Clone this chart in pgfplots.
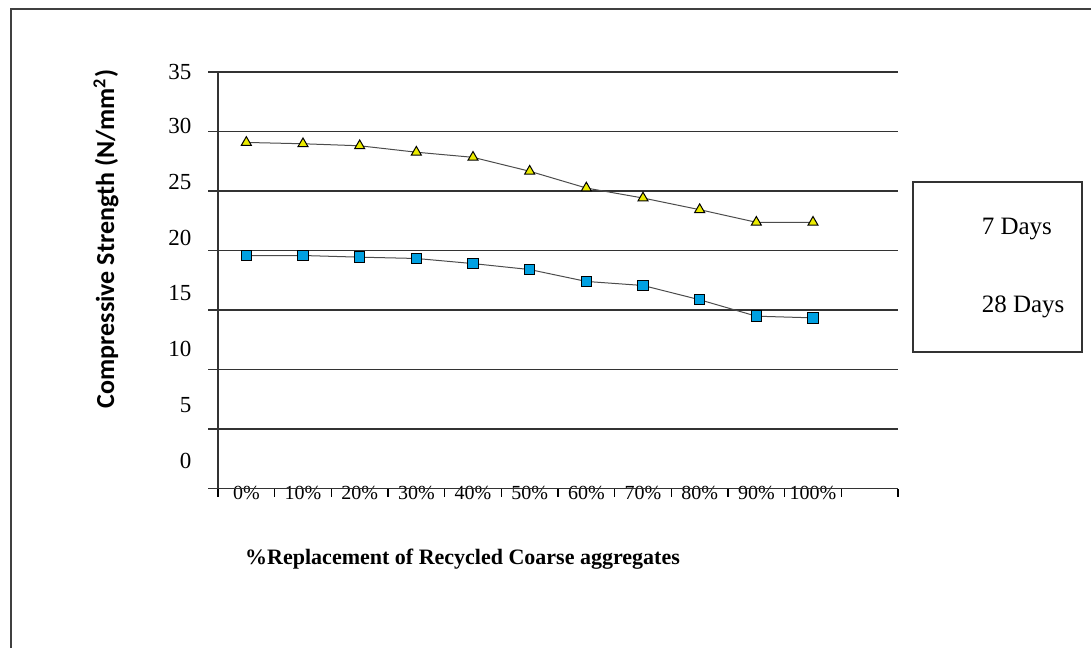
\documentclass[border=0pt]{standalone}
\usepackage{pgfplots}
\pgfplotsset{compat=1.18}
\usepackage{fontspec}
\setmainfont{Liberation Serif}
\newfontfamily\calib{Carlito}
\definecolor{triY}{RGB}{235,235,0}
\definecolor{sqB}{RGB}{0,160,225}
\begin{document}
\begin{tikzpicture}
\useasboundingbox (0,0) rectangle (545.5pt,324pt);
\draw[line width=1pt, black!75] (5.5pt,0) -- (5.5pt,319.5pt) -- (545.5pt,319.5pt);
\begin{axis}[
  at={(109pt,79.75pt)}, anchor=south west,
  scale only axis, width=340pt, height=208.25pt,
  xmin=-0.5, xmax=11.5, ymin=0, ymax=35,
  axis lines=left, axis line style={-, line width=0.9pt, black!80},
  /pgf/number format/assume math mode=true,
  xtick={0,...,10},
  xticklabels={0\%,10\%,20\%,30\%,40\%,50\%,60\%,70\%,80\%,90\%,100\%},
  ytick={2.34,7.02,11.70,16.39,21.07,25.75,30.43,35},
  yticklabels={0,5,10,15,20,25,30,35},
  major tick length=0pt,
  extra x ticks={-0.5,0.5,1.5,2.5,3.5,4.5,5.5,6.5,7.5,8.5,9.5,10.5,11.5},
  extra x tick labels={},
  extra x tick style={major tick length=4pt, tick align=outside, tick style={line width=0.6pt, black}},
  extra y ticks={0,5,10,15,20,25,30,35},
  extra y tick labels={},
  extra y tick style={major tick length=5pt, tick align=outside, ymajorgrids=true,
     tick style={line width=0.9pt, black!80},
     major grid style={line width=0.9pt, black!80}},
  xticklabel style={anchor=center, yshift=-2pt, font=\fontsize{10}{12}\selectfont},
  yticklabel style={anchor=east, xshift=-9.8pt, font=\fontsize{11.5}{13}\selectfont},
  xlabel={\%Replacement of Recycled Coarse aggregates},
  xlabel style={at={(axis description cs:0.3596,-0.169)}, anchor=center, font=\bfseries\fontsize{11}{13}\selectfont},
  ylabel={Compressive Strength (N/mm\textsuperscript{2})},
  ylabel style={at={(axis description cs:-0.1647,0.599)}, anchor=center, rotate=0, font=\calib\bfseries\fontsize{13}{15}\selectfont},
  legend style={at={(1.0206,0.7383)}, anchor=north west, draw=black!80, line width=0.8pt,
     inner xsep=2.5pt, inner ysep=17pt, row sep=27.5pt,
     nodes={inner sep=1pt}, font=\fontsize{12.5}{14}\selectfont, cells={anchor=west}},
  legend image code/.code={\path (0pt,0pt) (30.5pt,0pt);},
]
\addplot[black!70, line width=0.5pt, mark=triangle*, mark size=2.9pt,
  mark options={fill=triY, draw=black, line width=0.5pt}]
  coordinates {(0,29.08)(1,28.97)(2,28.8)(3,28.26)(4,27.83)(5,26.66)(6,25.25)(7,24.41)(8,23.43)(9,22.37)(10,22.37)};
\addlegendentry{\makebox[46.5pt][l]{7 Days}}
\addplot[black!70, line width=0.5pt, mark=square*, mark size=2.6pt,
  mark options={fill=sqB, draw=black, line width=0.5pt}]
  coordinates {(0,19.58)(1,19.58)(2,19.44)(3,19.33)(4,18.9)(5,18.4)(6,17.4)(7,17.06)(8,15.86)(9,14.48)(10,14.34)};
\addlegendentry{\makebox[46.5pt][l]{28 Days}}
\end{axis}
\end{tikzpicture}
\end{document}
